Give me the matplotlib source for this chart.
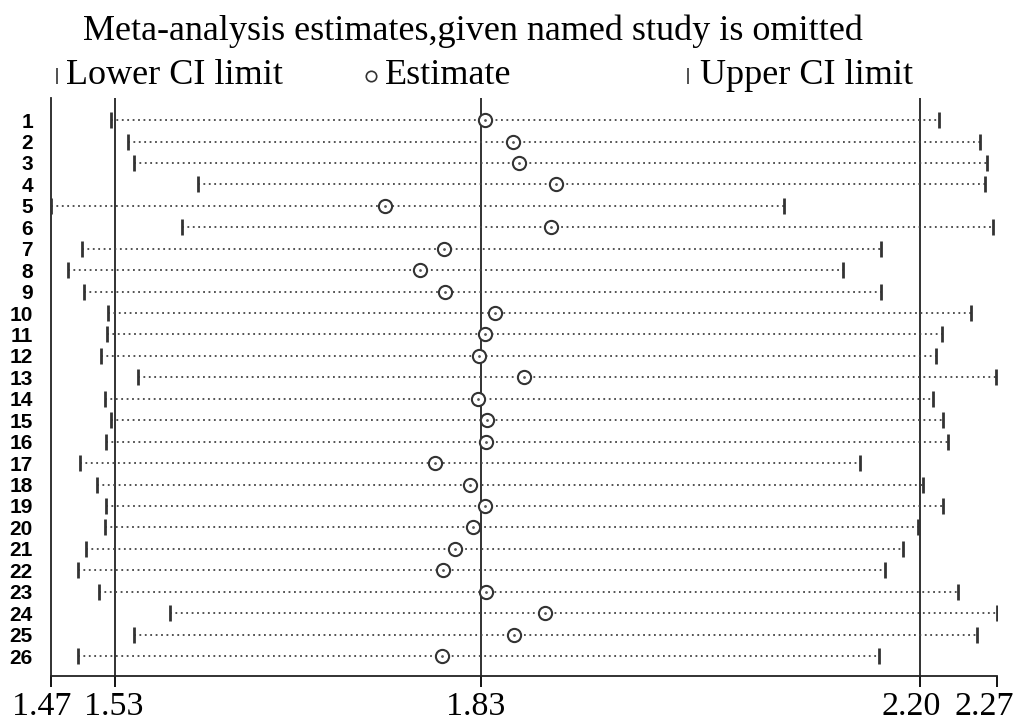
import matplotlib
matplotlib.use("Agg")
import matplotlib.pyplot as plt
import matplotlib.transforms as mtransforms
from matplotlib.lines import Line2D

# study omitted (1..26), estimates
studies = list(range(1, 27))
lower = [1.523, 1.538, 1.543, 1.596, 1.473, 1.583, 1.499, 1.487, 1.501, 1.521,
         1.520, 1.515, 1.546, 1.518, 1.523, 1.519, 1.497, 1.512, 1.519, 1.518,
         1.502, 1.496, 1.513, 1.573, 1.543, 1.496]
estimate = [1.837, 1.861, 1.866, 1.897, 1.753, 1.893, 1.803, 1.783, 1.804, 1.846,
            1.837, 1.832, 1.870, 1.831, 1.839, 1.838, 1.795, 1.825, 1.837, 1.827,
            1.812, 1.802, 1.838, 1.888, 1.862, 1.801]
upper = [2.218, 2.253, 2.259, 2.257, 2.088, 2.264, 2.170, 2.138, 2.170, 2.245,
         2.221, 2.216, 2.266, 2.213, 2.222, 2.226, 2.152, 2.205, 2.222, 2.201,
         2.188, 2.173, 2.234, 2.267, 2.250, 2.168]
# overall pooled result (lower CI, estimate, upper CI)
overall = [1.527, 1.834, 2.202]

serif = "Liberation Serif"
sans = "Liberation Sans"
dark = "#333333"

fig = plt.figure(figsize=(10.26, 7.2), dpi=100)
ax = fig.add_axes([51 / 1026, 44 / 720, 946 / 1026, 578 / 720])

xmin, xmax = min(lower), max(upper)

for v in overall:
    ax.axvline(v, color="#222222", lw=1.3, zorder=1)

for s, lo, est, up in zip(studies, lower, estimate, upper):
    ax.plot([lo, up], [s, s], color="#444444", lw=1.3, ls=(0, (1, 2.0)), zorder=2)
ax.plot(lower, studies, ls="none", marker="|", ms=12, mew=2.0, color=dark, zorder=3)
ax.plot(upper, studies, ls="none", marker="|", ms=12, mew=2.0, color=dark, zorder=3)
ax.plot(estimate, studies, ls="none", marker="o", ms=9.5, mew=1.5,
        mfc="white", mec=dark, zorder=4)
# thin centre dot like the dotted line running through
ax.plot(estimate, studies, ls="none", marker=".", ms=2, color="#555555", zorder=5)

ax.set_xlim(xmin, xmax)
ax.set_ylim(26.93, -0.03)

xt = [xmin] + overall + [xmax]
ax.set_xticks(xt)
ax.set_xticklabels(["%.2f" % v for v in xt], fontfamily=serif, fontsize=24.5)
ax.tick_params(axis="x", direction="out", length=8, width=1.3, pad=3, colors="black")
shifts = [-9, -2, -5, -8, -13]
for lab, dx in zip(ax.get_xticklabels(), shifts):
    lab.set_transform(lab.get_transform() +
                      mtransforms.ScaledTranslation(dx / 100, 0, fig.dpi_scale_trans))

ax.set_yticks(studies)
ax.set_yticklabels([str(s) for s in studies], fontfamily=sans,
                   fontweight="bold", fontsize=15)
ax.tick_params(axis="y", length=0, pad=13)

for side in ["top", "right"]:
    ax.spines[side].set_visible(False)
for side in ["left", "bottom"]:
    ax.spines[side].set_linewidth(1.3)
    ax.spines[side].set_color("#222222")

# title and legend row
fig.text(473 / 1026, 1 - 40 / 720, "Meta-analysis estimates,given named study is omitted",
         ha="center", va="baseline", fontfamily=serif, fontsize=26)

ly = 1 - 76 / 720
fig.add_artist(Line2D([57 / 1026], [ly], marker="|", ms=11, mew=1.2, color=dark,
                      transform=fig.transFigure))
fig.add_artist(Line2D([371 / 1026], [ly], marker="o", ms=7.5, mew=1.2, mfc="white",
                      mec=dark, transform=fig.transFigure))
fig.add_artist(Line2D([688 / 1026], [ly], marker="|", ms=11, mew=1.2, color=dark,
                      transform=fig.transFigure))
for x, t in [(66, "Lower CI limit"), (385, "Estimate"), (700, "Upper CI limit")]:
    fig.text(x / 1026, ly, t, ha="left", va="center", fontfamily=serif, fontsize=26)

fig.savefig("out.png", dpi=100)
